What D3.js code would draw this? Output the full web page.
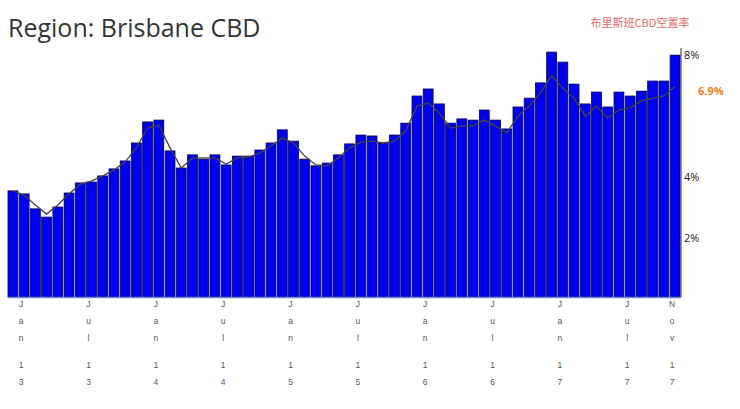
<!DOCTYPE html><html><head><meta charset="utf-8"><script src="https://cdn.jsdelivr.net/npm/d3@7"></script>
<style>body{margin:0;background:#fff}</style></head><body><svg id="c" width="740" height="409"></svg>
<script>
const months = d3.range(60).map(i => new Date(2012, 11 + i, 1));
const vacancy = [3.48,3.38,2.89,2.62,2.95,3.41,3.74,3.77,3.97,4.2,4.46,5.05,5.74,5.8,4.79,4.23,4.66,4.52,4.66,4.33,4.62,4.62,4.82,5.05,5.48,5.11,4.52,4.3,4.39,4.66,5.02,5.31,5.28,5.05,5.31,5.7,6.59,6.82,6.33,5.7,5.84,5.8,6.13,5.8,5.51,6.23,6.52,7.02,8.03,7.7,6.98,6.33,6.72,6.23,6.72,6.59,6.75,7.08,7.08,7.93];
const trend = [3.48,3.34,3.02,2.72,3.02,3.38,3.70,3.80,3.97,4.16,4.43,4.89,5.54,5.64,4.89,4.23,4.56,4.56,4.56,4.36,4.56,4.59,4.72,4.95,5.21,5.05,4.62,4.33,4.30,4.56,4.89,5.08,5.11,5.05,5.11,5.44,6.26,6.36,6.03,5.54,5.61,5.61,5.80,5.61,5.38,5.93,6.26,6.69,7.25,6.85,6.52,5.93,6.26,5.87,6.13,6.20,6.43,6.52,6.59,6.9];
const yTicks = [2,4,8];
const xLabelIdx = [1,7,13,19,25,31,37,43,49,55,59];
const svg = d3.select("#c");
const x = d3.scaleBand().domain(d3.range(60)).range([8,680]).paddingInner(0.12);
const y = d3.scaleLinear().domain([0,8]).range([297,53]);
svg.append("text").attr("x",8).attr("y",37).attr("font-family","Open Sans").attr("font-size",25).attr("fill","#333").text("Region: Brisbane CBD");
svg.append("text").attr("x",640).attr("y",27).attr("text-anchor","middle").attr("font-family","Noto Sans CJK SC").attr("font-size",11).attr("fill","#e26a6a").text("布里斯班CBD空置率");
svg.selectAll("rect.b").data(vacancy).join("rect").attr("x",(d,i)=>x(i)).attr("width",x.bandwidth()).attr("y",d=>y(d)).attr("height",d=>y(0)-y(d)).attr("fill","#0000ee").attr("stroke","#000055").attr("stroke-width",0.8);
svg.append("path").datum(trend).attr("fill","none").attr("stroke","#444").attr("stroke-width",1.3).attr("d",d3.line().x((d,i)=>x(i)+x.bandwidth()/2).y(d=>y(d)));
svg.append("line").attr("x1",8).attr("x2",681).attr("y1",297.5).attr("y2",297.5).attr("stroke","#6a8ad8").attr("stroke-width",1.5);
const ax = svg.append("g").attr("transform","translate(681,2)").call(d3.axisRight(y).tickValues(yTicks).tickSize(0).tickPadding(3).tickFormat(d=>d+"%"));
ax.select(".domain").attr("d","M0,46V295").attr("stroke","#333");
ax.selectAll("text").attr("font-family","Open Sans").attr("font-size",11).attr("fill","#222");
svg.append("text").attr("x",698).attr("y",95).attr("font-family","Open Sans").attr("font-weight","bold").attr("font-size",11).attr("fill","#f07f1e").text(trend[59]+"%");
const fmt = d3.timeFormat("%b %y");
const ys=[307,324,341,358,368,385];
xLabelIdx.forEach(i=>{
  fmt(months[i]).split("").forEach((c,k)=>{ if(c!==" ") svg.append("text").attr("x",x(i)+x.bandwidth()/2-3).attr("y",ys[k]).attr("text-anchor","middle").attr("font-family","Liberation Sans").attr("font-size",8.5).attr("fill","#555").text(c);});
});
</script></body></html>
